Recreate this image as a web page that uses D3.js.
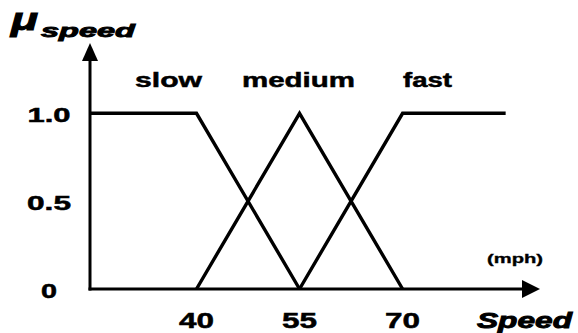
<!DOCTYPE html>
<html>
<head>
<meta charset="utf-8">
<script src="https://cdn.jsdelivr.net/npm/d3@7"></script>
<style>
  html, body { margin: 0; padding: 0; background: #fff; }
  svg { display: block; }
  text { font-family: "Liberation Sans", Arial, Helvetica, sans-serif; font-weight: bold; fill: #000; stroke: #000; stroke-width: 0.5; }
</style>
</head>
<body>
<svg id="chart" width="578" height="333"></svg>
<script>
// ---- data ----
const categories = ["slow", "medium", "fast"];
const slowX = [24.5, 40, 55];
const slowY = [1, 1, 0];
const mediumX = [40, 55, 70];
const mediumY = [0, 1, 0];
const fastX = [55, 70, 85];
const fastY = [0, 1, 1];
const xTickValues = [40, 55, 70];
const xTickLabels = ["40", "55", "70"];
const yTickValues = [0, 0.5, 1.0];
const yTickLabels = ["0", "0.5", "1.0"];
const xDomain = [24.5, 90];
const yDomain = [0, 1.4];

// ---- scales ----
const svg = d3.select("#chart");
const x = d3.scaleLinear().domain(xDomain).range([90, 540]);
const y = d3.scaleLinear().domain(yDomain).range([289, 43]);

const series = [
  { name: categories[0], xs: slowX, ys: slowY },
  { name: categories[1], xs: mediumX, ys: mediumY },
  { name: categories[2], xs: fastX, ys: fastY }
];

// ---- axes (arrows) ----
const axisW = 3;
svg.append("line")
  .attr("x1", x(xDomain[0])).attr("y1", y(0) + 1.5)
  .attr("x2", x(xDomain[0])).attr("y2", y(yDomain[1]) + 14)
  .attr("stroke", "#000").attr("stroke-width", axisW);
const yax = x(xDomain[0]), yat = y(yDomain[1]);
svg.append("path")
  .attr("d", `M${yax},${yat} L${yax - 8},${yat + 18} L${yax + 8},${yat + 18} Z`)
  .attr("fill", "#000");
svg.append("line")
  .attr("x1", x(xDomain[0]) - 1.5).attr("y1", y(0))
  .attr("x2", x(xDomain[1]) - 14).attr("y2", y(0))
  .attr("stroke", "#000").attr("stroke-width", axisW);
const xat = x(xDomain[1]), xay = y(0);
svg.append("path")
  .attr("d", `M${xat},${xay} L${xat - 18},${xay - 9} L${xat - 18},${xay + 9} Z`)
  .attr("fill", "#000");

// ---- membership lines ----
const line = d3.line().x(d => x(d[0])).y(d => y(d[1]));
svg.selectAll("path.mf")
  .data(series)
  .enter().append("path")
  .attr("class", "mf")
  .attr("d", s => line(s.xs.map((v, i) => [v, s.ys[i]])))
  .attr("fill", "none")
  .attr("stroke", "#000")
  .attr("stroke-width", 3.4)
  .attr("stroke-linejoin", "miter");

// ---- tick labels ----
const yLen = { "0": 16, "0.5": 44, "1.0": 43 };
svg.selectAll("text.ytick")
  .data(yTickValues)
  .enter().append("text")
  .attr("class", "ytick")
  .attr("x", 49)
  .attr("y", d => y(d) + 9)
  .attr("text-anchor", "middle")
  .attr("font-size", 20)
  .attr("textLength", (d, i) => yLen[yTickLabels[i]])
  .attr("lengthAdjust", "spacingAndGlyphs")
  .text((d, i) => yTickLabels[i]);

svg.selectAll("text.xtick")
  .data(xTickValues)
  .enter().append("text")
  .attr("class", "xtick")
  .attr("x", d => x(d))
  .attr("y", 328)
  .attr("text-anchor", "middle")
  .attr("font-size", 22)
  .attr("textLength", 35)
  .attr("lengthAdjust", "spacingAndGlyphs")
  .text((d, i) => xTickLabels[i]);

// ---- category labels ----
const catPos = { slow: [168.5, 67], medium: [298.5, 113], fast: [427.5, 49] };
svg.selectAll("text.cat")
  .data(categories)
  .enter().append("text")
  .attr("class", "cat")
  .attr("x", d => catPos[d][0])
  .attr("y", 87)
  .attr("text-anchor", "middle")
  .attr("font-size", 21)
  .attr("textLength", d => catPos[d][1])
  .attr("lengthAdjust", "spacingAndGlyphs")
  .text(d => d);

// ---- axis titles ----
svg.append("text")
  .attr("x", 11).attr("y", 30)
  .attr("font-size", 31)
  .attr("font-style", "italic")
  .attr("textLength", 27)
  .attr("lengthAdjust", "spacingAndGlyphs")
  .style("stroke-width", 1)
  .text("μ");
svg.append("text")
  .attr("x", 41).attr("y", 37)
  .attr("font-size", 19)
  .attr("font-style", "italic")
  .attr("textLength", 94)
  .attr("lengthAdjust", "spacingAndGlyphs")
  .style("stroke-width", 0.9)
  .text("speed");

svg.append("text")
  .attr("x", 487).attr("y", 263)
  .attr("font-size", 12)
  .attr("textLength", 56)
  .attr("lengthAdjust", "spacingAndGlyphs")
  .style("stroke-width", 0.3)
  .text("(mph)");

svg.append("text")
  .attr("x", 477).attr("y", 328)
  .attr("font-size", 22)
  .attr("font-style", "italic")
  .attr("textLength", 95)
  .attr("lengthAdjust", "spacingAndGlyphs")
  .style("stroke-width", 0.9)
  .text("Speed");
</script>
</body>
</html>
